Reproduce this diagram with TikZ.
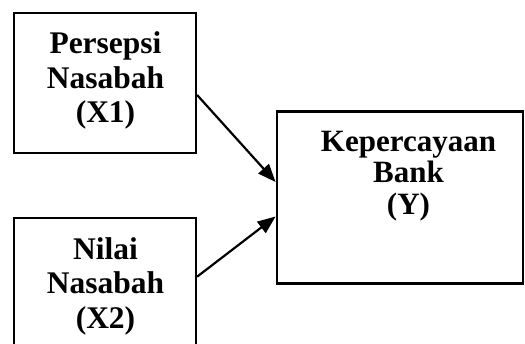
\documentclass[tikz,border=0pt]{standalone}
\usepackage{fontspec}
\setmainfont{Liberation Serif}
\usetikzlibrary{arrows.meta}
\begin{document}
\begin{tikzpicture}[x=1pt,y=-1pt,
  box/.style={draw,line width=2.2pt,inner sep=0pt},
  lbl/.style={inner sep=0pt,align=center,font=\fontsize{31.5}{34.5}\selectfont\bfseries},
  lbly/.style={inner sep=0pt,align=center,font=\fontsize{31}{31.5}\selectfont\bfseries},
  arr/.style={line width=2.2pt,-{Triangle[length=18pt,width=14pt]}}]
\useasboundingbox (0,0) rectangle (525,343);
\clip (0,0) rectangle (525,343);
\node[box,minimum width=181.7pt,minimum height=139.4pt] (x1) at (105.15,83) {};
\node[lbl] (t1) at (105.5,80.5) {Persepsi\\Nasabah\\(X1)};
\node[box,minimum width=181.7pt,minimum height=139.4pt] (x2) at (105.15,288) {};
\node[lbl] (t2) at (105.5,286) {Nilai\\Nasabah\\(X2)};
\node[box,minimum width=246.3pt,minimum height=172pt] (y) at (399.85,197.5) {};
\node[lbly] (ty) at (408.5,176) {Kepercayaan\\Bank\\(Y)};
\draw[arr] ([yshift=-12pt]x1.east) -- ([yshift=15.5pt]y.west);
\draw[arr] ([yshift=11.3pt]x2.east) -- ([yshift=-19pt]y.west);
\end{tikzpicture}
\end{document}
